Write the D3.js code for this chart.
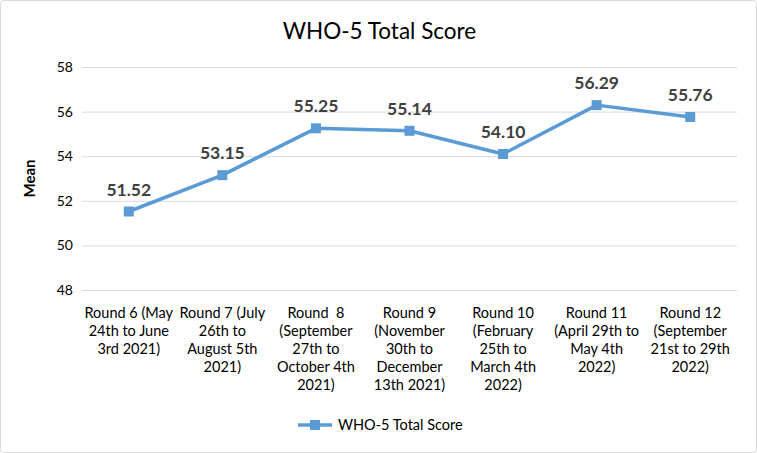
<!DOCTYPE html>
<html>
<head>
<meta charset="utf-8">
<script src="https://cdn.jsdelivr.net/npm/d3@7"></script>
<style>
  body { margin: 0; background: #fff; }
  svg text { font-family: "Lato", "Open Sans", sans-serif; white-space: pre; }
</style>
</head>
<body>
<div id="chart"></div>
<script>
// data
var rounds = ["Round 6", "Round 7", "Round 8", "Round 9", "Round 10", "Round 11", "Round 12"];
var roundLabels = [
  ["Round 6 (May", "24th to June", "3rd 2021)"],
  ["Round 7 (July", "26th to", "August 5th", "2021)"],
  ["Round  8", "(September", "27th to", "October 4th", "2021)"],
  ["Round 9", "(November", "30th to", "December", "13th 2021)"],
  ["Round 10", "(February", "25th to", "March 4th", "2022)"],
  ["Round 11", "(April 29th to", "May 4th", "2022)"],
  ["Round 12", "(September", "21st to 29th", "2022)"]
];
var scores = [51.52, 53.15, 55.25, 55.14, 54.10, 56.29, 55.76];
var yTicks = [48, 50, 52, 54, 56, 58];
var seriesName = "WHO-5 Total Score";

function draw(){
    var width = 757, height = 453;
    var margin = {top: 67, right: 20, bottom: 163, left: 82};
    var lineColor = "#5b9bd5";

    var svg = d3.select("#chart").append("svg")
        .attr("width", width)
        .attr("height", height);

    svg.append("rect")
       .attr("x", 0.5).attr("y", 0.5)
       .attr("width", width - 1).attr("height", height - 1)
       .attr("rx", 3)
       .attr("fill", "#fff")
       .attr("stroke", "#d9d9d9");

    var x = d3.scaleBand()
        .domain(rounds)
        .range([margin.left, width - margin.right]);

    var y = d3.scaleLinear()
        .domain([48, 58])
        .range([height - margin.bottom, margin.top]);

    // gridlines + y labels
    var yAxis = svg.append("g")
        .attr("transform", "translate(" + margin.left + ",0)")
        .call(d3.axisLeft(y).tickValues(yTicks)
              .tickSize(-(width - margin.left - margin.right))
              .tickPadding(8));
    yAxis.select(".domain").remove();
    yAxis.selectAll("line").attr("stroke", "#d9d9d9").attr("stroke-width", 1);
    yAxis.selectAll("text")
         .style("font-size", "14px")
         .attr("fill", "#000")
         .attr("dx", "-1");

    // x labels, multi line
    var xl = svg.append("g").selectAll("text")
        .data(rounds)
        .enter().append("text")
        .attr("x", function(d){ return x(d) + x.bandwidth() / 2; })
        .attr("y", height - margin.bottom + 28)
        .attr("text-anchor", "middle")
        .style("font-size", "14.5px")
        .attr("fill", "#000");
    xl.selectAll("tspan")
      .data(function(d, i){ return roundLabels[i]; })
      .enter().append("tspan")
      .attr("x", function(){ return this.parentNode.getAttribute("x"); })
      .attr("dy", function(d, i){ return i == 0 ? 0 : 18; })
      .text(function(d){ return d; });

    // line
    var line = d3.line()
        .x(function(d, i){ return x(rounds[i]) + x.bandwidth() / 2; })
        .y(function(d){ return y(d); });

    svg.append("path")
       .datum(scores)
       .attr("fill", "none")
       .attr("stroke", lineColor)
       .attr("stroke-width", 3.5)
       .attr("stroke-linejoin", "round")
       .attr("d", line);

    svg.selectAll(".marker")
       .data(scores)
       .enter().append("rect")
       .attr("class", "marker")
       .attr("x", function(d, i){ return x(rounds[i]) + x.bandwidth() / 2 - 5; })
       .attr("y", function(d){ return y(d) - 5; })
       .attr("width", 10).attr("height", 10)
       .attr("fill", lineColor);

    svg.selectAll(".dlabel")
       .data(scores)
       .enter().append("text")
       .attr("class", "dlabel")
       .attr("x", function(d, i){ return x(rounds[i]) + x.bandwidth() / 2; })
       .attr("y", function(d){ return y(d) - 16; })
       .attr("text-anchor", "middle")
       .style("font-size", "17.5px")
       .style("font-weight", "bold")
       .attr("fill", "#404040")
       .text(function(d){ return d.toFixed(2); });

    // title
    svg.append("text")
       .attr("x", width / 2 + 1)
       .attr("y", 39)
       .attr("text-anchor", "middle")
       .style("font-size", "22.5px")
       .attr("fill", "#000")
       .text(seriesName);

    // y axis title
    svg.append("text")
       .attr("transform", "translate(35," + ((margin.top + height - margin.bottom) / 2) + ") rotate(-90)")
       .attr("text-anchor", "middle")
       .style("font-size", "15px")
       .style("font-weight", "bold")
       .attr("fill", "#000")
       .text("Mean");

    // legend
    var lg = svg.append("g").attr("transform", "translate(298,425)");
    lg.append("line")
      .attr("x1", 0).attr("x2", 34).attr("y1", 0).attr("y2", 0)
      .attr("stroke", lineColor).attr("stroke-width", 3.5);
    lg.append("rect")
      .attr("x", 12).attr("y", -5).attr("width", 10).attr("height", 10)
      .attr("fill", lineColor);
    lg.append("text")
      .attr("x", 40).attr("y", 5)
      .style("font-size", "14.5px")
      .attr("fill", "#000")
      .text(seriesName);
}

draw();
</script>
</body>
</html>
